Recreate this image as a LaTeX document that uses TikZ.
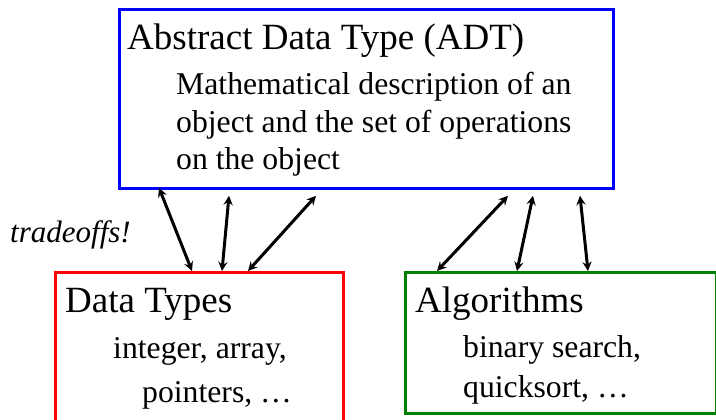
\documentclass[tikz,border=0pt]{standalone}
\usepackage{fontspec}
\setmainfont{Liberation Serif}
\usetikzlibrary{
		calc,
		positioning
	}
\tikzset{
		>=stealth,
		box/.style={draw, line width=2.8pt, anchor=north west, inner sep=0pt},
		head/.style={anchor=base west, inner sep=0pt, font=\fontsize{37}{41}\selectfont},
		item/.style={anchor=base west, inner sep=0pt, font=\fontsize{31.7}{35}\selectfont},
		link/.style={<->, line width=3pt}
	}

\begin{document}
\begin{tikzpicture}[x=1pt,y=-1pt]
              \clip (0,0) rectangle (716,420);

              % draw the boxes
              \node[box, draw=blue, minimum width=494pt, minimum height=179pt] (adt) at (118,8) {};
              \node[box, draw=red, minimum width=288pt, minimum height=200pt] (dt) at (54,271) {};
              \node[box, draw=green!50!black, minimum width=311pt, minimum height=141pt] (alg) at (404,271) {};

              % the texts
              \node[head] (t1) at (127,50) {Abstract Data Type (ADT)};
              \node[item] (m1) at (176,95) {Mathematical description of an};
              \node[item] (m2) at (176,133) {object and the set of operations};
              \node[item] (m3) at (176,170) {on the object};
              \node[head] (t2) at (65,312) {Data Types};
              \node[item] (d1) at (113,358) {integer, array,};
              \node[item] (d2) at (142,402) {pointers, \ldots};
              \node[head] (t3) at (415,312) {Algorithms};
              \node[item] (g1) at (463,357) {binary search,};
              \node[item] (g2) at (463,397) {quicksort, \ldots};
              \node[item, font=\fontsize{31}{34}\itshape] (tr) at (10,242) {tradeoffs!};

              % draw the arrows
              \draw[link] ([xshift=41pt,yshift=2pt]adt.south west) -- ([xshift=138pt]dt.north west);
              \draw[link] ([xshift=111pt,yshift=-6pt]adt.south west) -- ([xshift=168pt]dt.north west);
              \draw[link] ([xshift=198pt,yshift=-6pt]adt.south west) -- ([xshift=194pt]dt.north west);
              \draw[link] ([xshift=390pt,yshift=-6pt]adt.south west) -- ([xshift=33pt]alg.north west);
              \draw[link] ([xshift=415pt,yshift=-6pt]adt.south west) -- ([xshift=113pt]alg.north west);
              \draw[link] ([xshift=462pt,yshift=-6pt]adt.south west) -- ([xshift=184pt]alg.north west);

          \end{tikzpicture}
\end{document}
